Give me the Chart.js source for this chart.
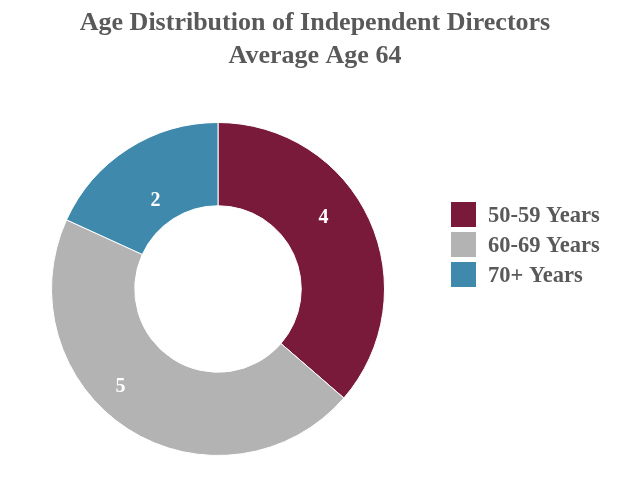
<!DOCTYPE html>
<html>
<head>
<meta charset="utf-8">
<script src="https://cdn.jsdelivr.net/npm/chart.js@4"></script>
<style>
  html, body { margin: 0; padding: 0; background: #fff; }
  #wrap { width: 630px; height: 486px; position: relative; }
</style>
</head>
<body>
<div id="wrap"><canvas id="c" width="630" height="486"></canvas></div>
<script>
const titleLines = ['Age Distribution of Independent Directors', 'Average Age 64'];
const categories = ['50-59 Years', '60-69 Years', '70+ Years'];
const counts = [4, 5, 2];
const colors = ['#7A1A3A', '#B3B3B3', '#3F89AC'];

const FONT = "'Liberation Serif', 'Times New Roman', serif";

const pageTitle = {
  id: 'pageTitle',
  afterDraw(chart, args, opts) {
    const ctx = chart.ctx;
    ctx.save();
    ctx.font = 'bold ' + opts.size + 'px ' + FONT;
    ctx.fillStyle = '#595959';
    ctx.textAlign = 'center';
    ctx.textBaseline = 'middle';
    opts.lines.forEach((t, i) => ctx.fillText(t, chart.width / 2, opts.top + i * opts.step));
    ctx.restore();
  }
};

const valueLabels = {
  id: 'valueLabels',
  afterDatasetsDraw(chart, args, opts) {
    const ctx = chart.ctx;
    const meta = chart.getDatasetMeta(0);
    ctx.save();
    ctx.font = 'bold 20px ' + FONT;
    ctx.fillStyle = '#ffffff';
    ctx.textAlign = 'center';
    ctx.textBaseline = 'middle';
    meta.data.forEach((arc, i) => {
      const p = arc.tooltipPosition();
      const off = opts.offsets[i] || [0, 0];
      ctx.fillText(String(chart.data.datasets[0].data[i]), p.x + off[0], p.y + off[1]);
    });
    ctx.restore();
  }
};

const sideLegend = {
  id: 'sideLegend',
  afterDraw(chart, args, opts) {
    const ctx = chart.ctx;
    const ds = chart.data.datasets[0];
    ctx.save();
    ctx.font = 'bold 22.5px ' + FONT;
    ctx.textAlign = 'left';
    ctx.textBaseline = 'middle';
    chart.data.labels.forEach((lab, i) => {
      const y = opts.top + i * opts.step;
      ctx.fillStyle = ds.backgroundColor[i];
      ctx.fillRect(opts.left, y, opts.box, opts.box);
      ctx.fillStyle = '#595959';
      ctx.fillText(lab, opts.left + opts.box + opts.gap, y + opts.box / 2 + 2);
    });
    ctx.restore();
  }
};

new Chart(document.getElementById('c'), {
  type: 'doughnut',
  data: {
    labels: categories,
    datasets: [{
      data: counts,
      backgroundColor: colors,
      borderColor: '#ffffff',
      borderWidth: 1,
      hoverOffset: 0
    }]
  },
  options: {
    responsive: false,
    animation: false,
    cutout: '50%',
    layout: { padding: { left: 0, right: 194, top: 122, bottom: 30 } },
    plugins: {
      legend: { display: false },
      tooltip: { enabled: false },
      title: { display: false },
      pageTitle: { lines: titleLines, size: 26, top: 23, step: 33 },
      valueLabels: { offsets: [[-8, -19], [-30, -7], [5, 17]] },
      sideLegend: { left: 451, top: 202, step: 30, box: 25, gap: 12 }
    }
  },
  plugins: [pageTitle, valueLabels, sideLegend]
});
</script>
</body>
</html>
